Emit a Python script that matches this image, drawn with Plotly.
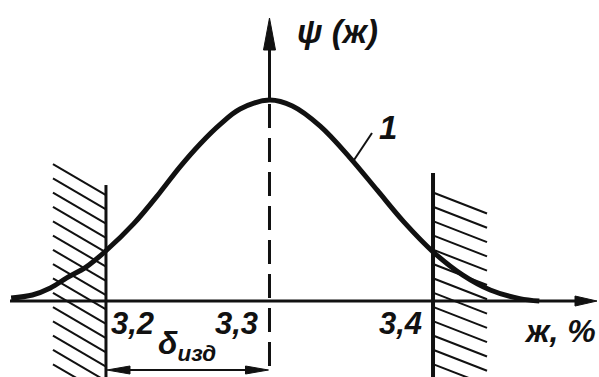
import plotly.graph_objects as go

# Distribution curve psi(x) of the component content x, %
curve_x = [3.142, 3.155, 3.166, 3.176, 3.188, 3.200, 3.217, 3.233, 3.245, 3.258,
           3.270, 3.282, 3.300, 3.314, 3.331, 3.349, 3.366, 3.382, 3.400, 3.418,
           3.435, 3.453, 3.465]
curve_psi = [0.015, 0.030, 0.065, 0.115, 0.170, 0.250, 0.385, 0.540, 0.665, 0.785,
             0.880, 0.955, 1.000, 0.970, 0.870, 0.715, 0.550, 0.395, 0.245, 0.130,
             0.055, 0.012, 0.000]

# Tolerance limits and the centre of the distribution
lower_limit = 3.2
centre = 3.3
upper_limit = 3.4
tick_vals = [3.2, 3.3, 3.4]
tick_text = ["3,2", "3,3", "3,4"]

X0, X1 = 3.1352, 3.5015
Y0, Y1 = -0.378, 1.4975
PXX = (X1 - X0) / 599.0   # data units per pixel, horizontal
PXY = (Y1 - Y0) / 377.0   # data units per pixel, vertical

INK = "#111111"
FONT = dict(family="Liberation Sans Narrow, Liberation Sans", color=INK,
            style="italic", weight="bold")

fig = go.Figure()

fig.add_trace(go.Scatter(
    x=curve_x, y=curve_psi, mode="lines",
    line=dict(color=INK, width=5, shape="spline", smoothing=1.0),
    hoverinfo="skip", showlegend=False,
))

shapes = []

def seg(x0, y0, x1, y1, w=2, dash=None):
    ln = dict(color=INK, width=w)
    if dash:
        ln["dash"] = dash
    shapes.append(dict(type="line", xref="x", yref="y", x0=x0, y0=y0, x1=x1, y1=y1,
                       line=ln, layer="above"))

def tri(points):
    path = "M " + " L ".join(f"{px},{py}" for px, py in points) + " Z"
    shapes.append(dict(type="path", xref="x", yref="y", path=path,
                       fillcolor=INK, line=dict(color=INK, width=1), layer="above"))

# horizontal x axis with arrow
axis_end = X0 + 597 * PXX
seg(X0 + 10 * PXX, 0, axis_end - 18 * PXX, 0, w=3)
tri([(axis_end, 0), (axis_end - 22 * PXX, 5 * PXY), (axis_end - 22 * PXX, -5 * PXY)])

# vertical psi axis: solid above the peak, dashed below it
top = Y1 - 18 * PXY
seg(centre, 1.0, centre, top - 28 * PXY, w=3)
tri([(centre, top), (centre - 6 * PXX, top - 32 * PXY), (centre + 6 * PXX, top - 32 * PXY)])
seg(centre, 0.98, centre, Y0 + 7 * PXY, w=3, dash="24px,10px")

# tolerance limit lines
seg(lower_limit, 0.577, lower_limit, Y0, w=3)
seg(upper_limit, 0.637, upper_limit, Y0, w=4)

# hatching outside the tolerance field
hw = 53 * PXX
step = 14.3 * PXY
y = 0.527
while y > Y0 - 0.2:
    seg(lower_limit - hw, y + 31 * PXY, lower_limit, y, w=2)
    y -= step
y = 0.54
while y > Y0 - 0.2:
    seg(upper_limit, y, upper_limit + 54 * PXX, y - 21 * PXY, w=2)
    y -= step

# dimension arrow for the tolerance delta
dim_y = Y0 + 7 * PXY
seg(lower_limit + 14 * PXX, dim_y, centre - 14 * PXX, dim_y, w=2)
tri([(lower_limit + 1 * PXX, dim_y), (lower_limit + 24 * PXX, dim_y + 4 * PXY),
     (lower_limit + 24 * PXX, dim_y - 4 * PXY)])
tri([(centre - 1 * PXX, dim_y), (centre - 24 * PXX, dim_y + 4 * PXY),
     (centre - 24 * PXX, dim_y - 4 * PXY)])

# leader line for curve label
seg(X0 + 354 * PXX, Y1 - 160 * PXY, X0 + 372 * PXX, Y1 - 133 * PXY, w=2)

annotations = []
shifts = [3, -9, -9]
anchors = ["left", "right", "right"]
for v, t, s, a in zip(tick_vals, tick_text, shifts, anchors):
    annotations.append(dict(x=v, y=-0.11, xref="x", yref="y", text=t, showarrow=False,
                            xanchor=a, yanchor="middle", xshift=s,
                            font=dict(size=31, **FONT)))

annotations += [
    dict(x=X0 + 560 * PXX, y=Y1 - 331 * PXY, text="ж, %", showarrow=False,
         xanchor="center", yanchor="middle", font=dict(size=32, **FONT)),
    dict(x=X0 + 337 * PXX, y=Y1 - 31 * PXY, text="ψ (ж)", showarrow=False,
         xanchor="center", yanchor="middle", font=dict(size=33, **FONT)),
    dict(x=X0 + 388 * PXX, y=Y1 - 127 * PXY, text="1", showarrow=False,
         xanchor="center", yanchor="middle", font=dict(size=33, **FONT)),
    dict(x=X0 + 187 * PXX, y=Y1 - 345 * PXY, text="δ<sub>изд</sub>", showarrow=False,
         xanchor="center", yanchor="middle", font=dict(size=32, **FONT)),
]

fig.update_layout(
    width=599, height=377,
    margin=dict(l=0, r=0, t=0, b=0),
    paper_bgcolor="white", plot_bgcolor="white",
    xaxis=dict(range=[X0, X1], visible=False, fixedrange=True),
    yaxis=dict(range=[Y0, Y1], visible=False, fixedrange=True),
    shapes=shapes, annotations=annotations,
    showlegend=False,
)

fig.write_html("out.html")
